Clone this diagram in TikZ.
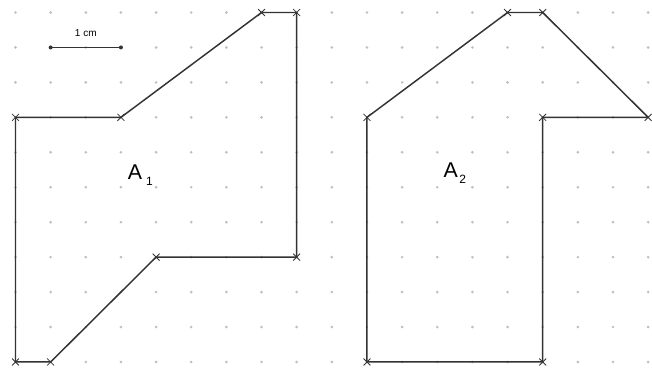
\documentclass[tikz,border=0pt]{standalone}
\usepackage{fontspec}
\setmainfont{Liberation Sans}
\begin{document}
\begin{tikzpicture}[x=0.75pt,y=-0.75pt,
  edge/.style={draw=black!80,line width=1.1pt,line join=round},
  griddot/.style={fill=black!25},
  lbl/.style={font=\fontsize{16}{18}\selectfont,inner sep=0pt}]
\useasboundingbox (0,0) rectangle (652,368);
\begin{scope}[shift={(15.5,12.5)},x=26.36pt,y=-26.21pt]
  % dot grid
  \foreach \i in {0,...,18}{\foreach \j in {0,...,10}{\fill[griddot] (\i,\j) circle (1.1pt);}}
  % A1 vertices
  \coordinate (a1) at (0,3);
  \coordinate (a2) at (3,3);
  \coordinate (a3) at (7,0);
  \coordinate (a4) at (8,0);
  \coordinate (a5) at (8,7);
  \coordinate (a6) at (4,7);
  \coordinate (a7) at (1,10);
  \coordinate (a8) at (0,10);
  % A2 vertices
  \coordinate (b1) at (10,3);
  \coordinate (b2) at (14,0);
  \coordinate (b3) at (15,0);
  \coordinate (b4) at (18,3);
  \coordinate (b5) at (15,3);
  \coordinate (b6) at (15,10);
  \coordinate (b7) at (10,10);
  \draw[edge] (a1)--(a2)--(a3)--(a4)--(a5)--(a6)--(a7)--(a8)--cycle;
  \draw[edge] (b1)--(b2)--(b3)--(b4)--(b5)--(b6)--(b7)--cycle;
  \foreach \p in {a1,a2,a3,a4,a5,a6,a7,a8,b1,b2,b3,b4,b5,b6,b7}{
    \draw[black!80,line width=0.6pt] (\p) +(-2.6pt,-2.6pt) -- +(2.6pt,2.6pt) (\p) +(-2.6pt,2.6pt) -- +(2.6pt,-2.6pt);}
  % scale bar
  \coordinate (s1) at (1,1);
  \coordinate (s2) at (3,1);
  \draw[edge] (s1) -- (s2);
  \fill[black!80] (s1) circle (1.5pt) (s2) circle (1.5pt);
  \node[font=\fontsize{7.5}{9}\selectfont,inner sep=0pt] (scl) at (2,0.6) {1 cm};
  % labels
  \node[lbl] (A1) at (3.55,4.65) {A\hspace{3pt}\raisebox{-4pt}{\fontsize{9}{10}\selectfont 1}};
  \node[lbl] (A2) at (12.5,4.6) {A\hspace{1pt}\raisebox{-4pt}{\fontsize{9}{10}\selectfont 2}};
\end{scope}
\end{tikzpicture}
\end{document}
